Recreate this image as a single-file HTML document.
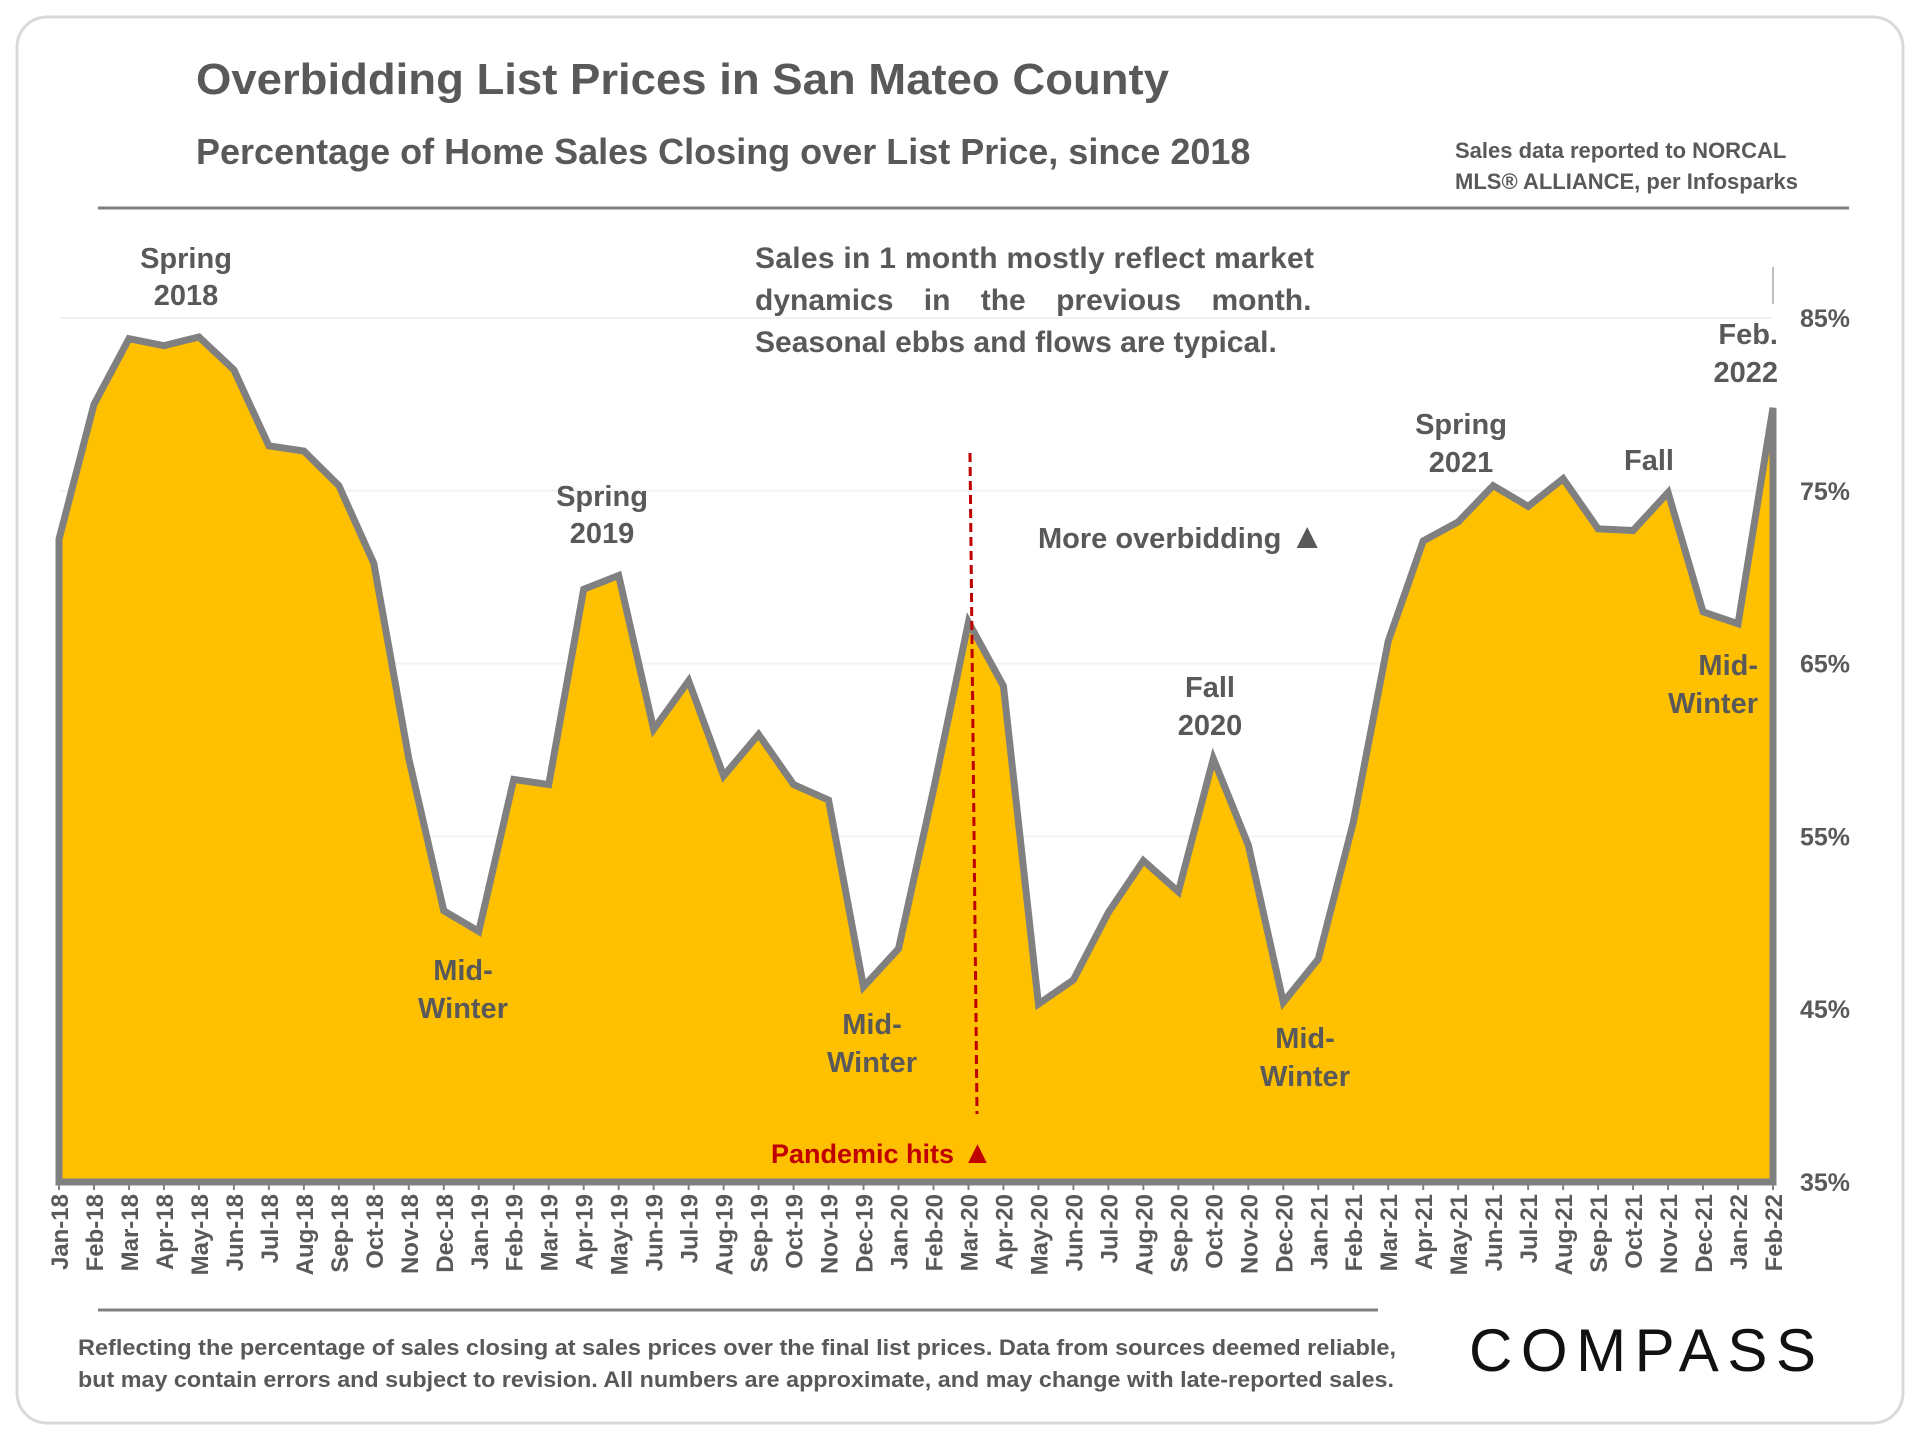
<!DOCTYPE html>
<html><head><meta charset="utf-8"><style>
body{margin:0;background:#fff;}
svg text{font-family:"Liberation Sans",sans-serif;}
</style></head><body>
<svg width="1920" height="1440" viewBox="0 0 1920 1440" xmlns="http://www.w3.org/2000/svg">
<rect x="17" y="17" width="1886" height="1406" rx="30" fill="#fff" stroke="#d9d9d9" stroke-width="3"/>
<text x="196" y="94" font-size="44" font-weight="bold" fill="#595959" textLength="973" lengthAdjust="spacingAndGlyphs">Overbidding List Prices in San Mateo County</text>
<text x="196" y="164" font-size="36" font-weight="bold" fill="#595959">Percentage of Home Sales Closing over List Price, since 2018</text>
<text x="1455" y="158" font-size="22" font-weight="bold" fill="#595959"><tspan x="1455">Sales data reported to NORCAL</tspan><tspan x="1455" dy="31">MLS® ALLIANCE, per Infosparks</tspan></text>
<line x1="98" y1="208" x2="1849" y2="208" stroke="#808080" stroke-width="3"/>
<g id="grid"></g>
<g id="area"></g>
<g id="axes"></g>
<line x1="1773" y1="267" x2="1773" y2="304" stroke="#bfbfbf" stroke-width="2"/>
<line x1="970" y1="453" x2="977" y2="1114" stroke="#C00000" stroke-width="3" stroke-dasharray="9,5"/>
<text x="771" y="1163" font-size="27" font-weight="bold" fill="#C00000">Pandemic hits <tspan font-size="32">▲</tspan></text>
<g font-size="29" font-weight="bold" fill="#595959" text-anchor="middle">
<text x="186" y="268"><tspan x="186">Spring</tspan><tspan x="186" dy="37">2018</tspan></text>
<text x="463" y="980"><tspan x="463">Mid-</tspan><tspan x="463" dy="38">Winter</tspan></text>
<text x="602" y="506"><tspan x="602">Spring</tspan><tspan x="602" dy="37">2019</tspan></text>
<text x="872" y="1034"><tspan x="872">Mid-</tspan><tspan x="872" dy="38">Winter</tspan></text>
<text x="1210" y="697"><tspan x="1210">Fall</tspan><tspan x="1210" dy="38">2020</tspan></text>
<text x="1305" y="1048"><tspan x="1305">Mid-</tspan><tspan x="1305" dy="38">Winter</tspan></text>
<text x="1461" y="434"><tspan x="1461">Spring</tspan><tspan x="1461" dy="38">2021</tspan></text>
<text x="1649" y="470">Fall</text>
<text x="1778" y="344" text-anchor="end"><tspan x="1778">Feb.</tspan><tspan x="1778" dy="38">2022</tspan></text>
<text x="1758" y="675" text-anchor="end"><tspan x="1758">Mid-</tspan><tspan x="1758" dy="38">Winter</tspan></text>
<text x="1038" y="548" text-anchor="start">More overbidding <tspan font-size="36">▲</tspan></text>
</g>
<g font-size="30" font-weight="bold" fill="#595959">
<text x="755" y="268" textLength="559" lengthAdjust="spacing">Sales in 1 month mostly reflect market</text>
<text x="755" y="310" word-spacing="22">dynamics in the previous month.</text>
<text x="755" y="352">Seasonal ebbs and flows are typical.</text>
</g>
<line x1="98" y1="1310" x2="1378" y2="1310" stroke="#808080" stroke-width="3"/>
<text font-size="22" font-weight="bold" fill="#595959"><tspan x="78" y="1355" textLength="1318" lengthAdjust="spacingAndGlyphs">Reflecting the percentage of sales closing at sales prices over the final list prices. Data from sources deemed reliable,</tspan><tspan x="78" y="1387" textLength="1316" lengthAdjust="spacingAndGlyphs">but may contain errors and subject to revision. All numbers are approximate, and may change with late-reported sales.</tspan></text>
<text x="1469" y="1371" font-size="60" fill="#111" textLength="347" lengthAdjust="spacing">COMPASS</text>
</svg>
<script>
const months=["Jan-18","Feb-18","Mar-18","Apr-18","May-18","Jun-18","Jul-18","Aug-18","Sep-18","Oct-18","Nov-18","Dec-18","Jan-19","Feb-19","Mar-19","Apr-19","May-19","Jun-19","Jul-19","Aug-19","Sep-19","Oct-19","Nov-19","Dec-19","Jan-20","Feb-20","Mar-20","Apr-20","May-20","Jun-20","Jul-20","Aug-20","Sep-20","Oct-20","Nov-20","Dec-20","Jan-21","Feb-21","Mar-21","Apr-21","May-21","Jun-21","Jul-21","Aug-21","Sep-21","Oct-21","Nov-21","Dec-21","Jan-22","Feb-22"];
const values=[72.2,80.0,83.8,83.4,83.9,82.0,77.6,77.3,75.3,70.8,59.5,50.7,49.5,58.3,58.0,69.3,70.1,61.2,64.0,58.5,60.9,58.0,57.1,46.3,48.5,57.7,67.4,63.7,45.3,46.7,50.6,53.6,51.8,59.5,54.5,45.4,47.9,55.8,66.3,72.1,73.2,75.3,74.1,75.7,72.8,72.7,74.9,68.0,67.3,79.8];
const yTicks=[35,45,55,65,75,85];
const NS="http://www.w3.org/2000/svg";
const X0=59,X1=1773,Y0=1182,Y1=318;
const x=i=>X0+(X1-X0)*i/(months.length-1);
const y=v=>Y0-(v-35)/(85-35)*(Y0-Y1);
function mk(t,a,p){const e=document.createElementNS(NS,t);for(const k in a)e.setAttribute(k,a[k]);p.appendChild(e);return e;}
const grid=document.getElementById('grid'),area=document.getElementById('area'),axes=document.getElementById('axes');
yTicks.forEach(t=>{
 if(t>35){const g=mk('line',{x1:X0,x2:X1,y1:y(t),y2:y(t),stroke:'#f2f2f2','stroke-width':2},grid);
 
 }
 const l=mk('text',{x:1800,y:y(t)+9,'font-size':25,'font-weight':'bold',fill:'#595959'},axes);
 l.textContent=t+'%';
 
 
});
let d='M'+x(0)+','+Y0;
values.forEach((v,i)=>{d+=' L'+x(i)+','+y(v);});
d+=' L'+x(values.length-1)+','+Y0+' Z';
const p=mk('path',{d:d,fill:'#FFC000',stroke:'#808080','stroke-width':7,'stroke-linejoin':'miter'},area);


months.forEach((m,i)=>{
 const tk=mk('line',{x1:x(i),x2:x(i),y1:Y0,y2:Y0+8,stroke:'#808080','stroke-width':2},axes);
 
 
 const t=mk('text',{x:0,y:0,'font-size':24,'font-weight':'bold',fill:'#595959','text-anchor':'end',transform:`translate(${x(i)+9},${Y0+12}) rotate(-90)`},axes);
 t.textContent=m;
 
 
});
</script>
</body></html>
